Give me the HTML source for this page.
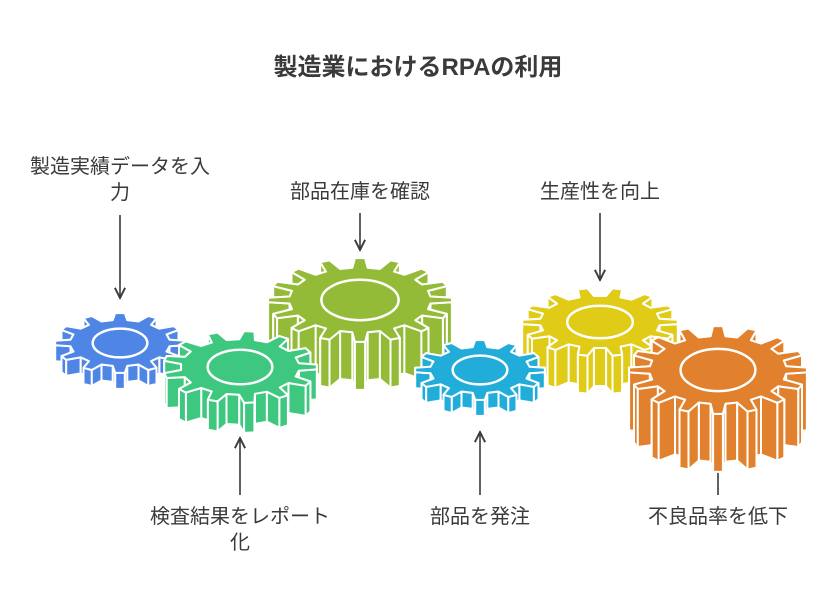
<!DOCTYPE html><html><head><meta charset="utf-8"><style>
body{margin:0;background:#fff;width:836px;height:601px;overflow:hidden}
text{font-family:"Liberation Sans","Noto Sans CJK JP",sans-serif;fill:#3a3a3a}
</style></head><body>
<svg id="s" width="836" height="601" viewBox="0 0 836 601" xmlns="http://www.w3.org/2000/svg">
<defs><marker id="a" viewBox="0 0 10 10" refX="9" refY="5" markerWidth="8" markerHeight="8" orient="auto"><path d="M1 1L9 5L1 9" fill="none" stroke="#3a3a3a" stroke-width="1.5"/></marker></defs>
<text x="418" y="75" text-anchor="middle" font-size="24" font-weight="bold">製造業におけるRPAの利用</text>
<text x="120" y="173" text-anchor="middle" font-size="20">製造実績データを入</text>
<text x="120" y="199" text-anchor="middle" font-size="20">力</text>
<text x="360" y="198" text-anchor="middle" font-size="20">部品在庫を確認</text>
<text x="600" y="198" text-anchor="middle" font-size="20">生産性を向上</text>
<text x="240" y="523" text-anchor="middle" font-size="20">検査結果をレポート</text>
<text x="240" y="549" text-anchor="middle" font-size="20">化</text>
<text x="480" y="523" text-anchor="middle" font-size="20">部品を発注</text>
<text x="718" y="523" text-anchor="middle" font-size="20">不良品率を低下</text>
<g stroke="#3a3a3a" stroke-width="1.6" marker-end="url(#a)">
<line x1="120" y1="215" x2="120" y2="298"/>
<line x1="360" y1="213" x2="360" y2="250"/>
<line x1="600" y1="213" x2="600" y2="280"/>
<line x1="240" y1="495" x2="240" y2="438"/>
<line x1="480" y1="495" x2="480" y2="432"/>
<line x1="718" y1="495" x2="718" y2="458"/>
</g>
<g id="g"></g>
</svg>
<script>
var G=[
[360,300,92,42,48,16,'#93bb38'],
[600,322,78,34,38,14,'#e0cb17'],
[120,343,65,30,16,12,'#4f86e6'],
[240,367,77,36,30,13,'#3ec77f'],
[480,370,65,30,16,12,'#22acd9'],
[718,370,89,44,58,16,'#e2812d']];
var g=document.getElementById('g'),h='';
G.forEach(function(p){var cx=p[0],cy=p[1],rx=p[2],ry=p[3],d=p[4],n=p[5],c=p[6];
var pts=[],ri=0.77;for(var i=0;i<n;i++){var a=i*2*Math.PI/n,s=Math.PI/n;
[[a-0.55*s,ri],[a-0.28*s,1],[a+0.28*s,1],[a+0.55*s,ri]].forEach(function(q){pts.push([cx+rx*q[1]*Math.cos(q[0]),cy+ry*q[1]*Math.sin(q[0])]);});}
var f=function(x){return x.toFixed(1)};
var quads=[];for(var k=0;k<pts.length;k++){var A=pts[k],B=pts[(k+1)%pts.length];
quads.push({y:(A[1]+B[1])/2,s:f(A[0])+','+f(A[1])+' '+f(B[0])+','+f(B[1])+' '+f(B[0])+','+f(B[1]+d)+' '+f(A[0])+','+f(A[1]+d)});}
quads.sort(function(a,b){return a.y-b.y});
quads.forEach(function(q){h+='<polygon points="'+q.s+'" fill="'+c+'" stroke="#fff" stroke-width="2" stroke-linejoin="round"/>';});
h+='<polygon points="'+pts.map(function(q){return f(q[0])+','+f(q[1])}).join(' ')+'" fill="'+c+'" stroke="#fff" stroke-width="2" stroke-linejoin="round"/>';
h+='<ellipse cx="'+cx+'" cy="'+cy+'" rx="'+f(rx*0.42)+'" ry="'+f(ry*0.48)+'" fill="'+c+'" stroke="#fff" stroke-width="2.5"/>';
});
g.innerHTML=h;
</script>
</body></html>
